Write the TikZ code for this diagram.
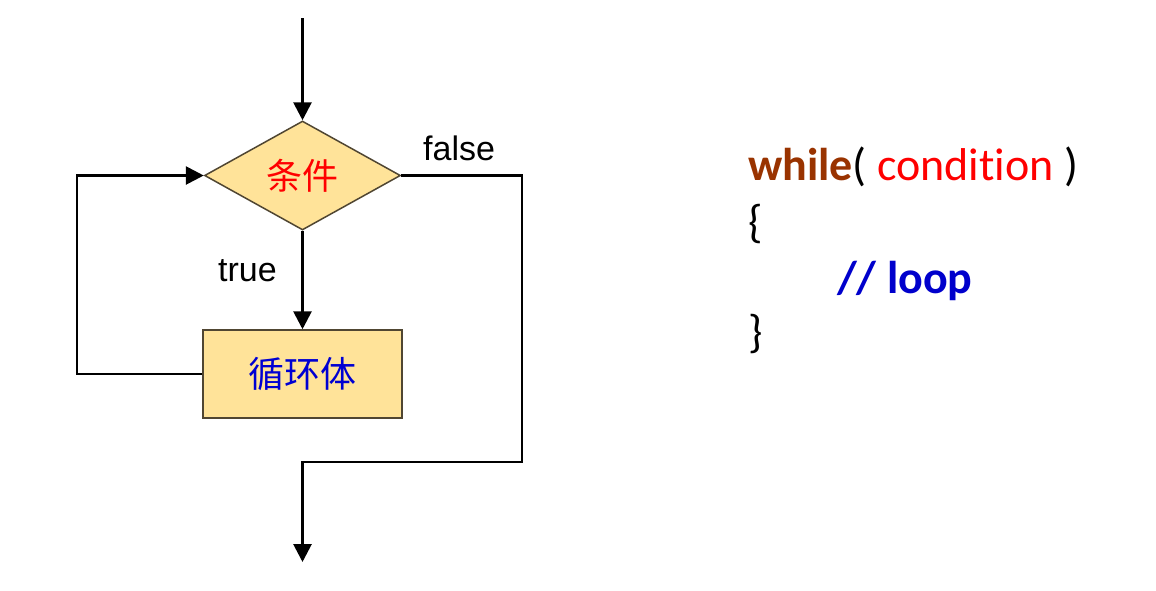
\documentclass[tikz,border=0pt]{standalone}
\usepackage{fontspec}
\setmainfont{Liberation Sans}
\newfontfamily\cjk{Noto Sans CJK SC}
\newfontfamily\codefont[Ligatures={NoCommon,NoRare,NoContextual}]{Carlito}
\usetikzlibrary{shapes.geometric,arrows.meta}
\definecolor{boxfill}{RGB}{255,227,153}
\definecolor{boxdraw}{RGB}{80,70,50}
\definecolor{kwbrown}{RGB}{153,51,0}
\definecolor{cjkblue}{RGB}{0,0,210}
\definecolor{codeblue}{RGB}{0,0,204}
\definecolor{cred}{RGB}{255,0,0}
\tikzset{
  wire/.style={line width=2.8pt, black},
  arr/.style={wire, -{Triangle[width=18pt,length=18pt]}},
  decbox/.style={diamond, draw=boxdraw, fill=boxfill, line width=1.5pt, inner sep=0pt,
    minimum width=196pt, minimum height=109pt},
  bodybox/.style={rectangle, draw=boxdraw, fill=boxfill, line width=1.5pt, inner sep=0pt,
    minimum width=199pt, minimum height=88pt},
  lbl/.style={anchor=base west, inner sep=0pt, font=\fontsize{34}{40}\selectfont},
  code/.style={anchor=base west, inner sep=0pt, font=\codefont\fontsize{46}{54}\selectfont},
}
\begin{document}
\begin{tikzpicture}[x=1pt,y=-1pt]
\useasboundingbox (0,0) rectangle (1156,590);
\node[decbox] (cond) at (302.5,175.5) {\cjk\fontsize{36}{40}\selectfont\color{cred}条件};
\node[bodybox] (body) at (302.5,374) {\cjk\fontsize{36}{40}\selectfont\color{cjkblue}循环体};
\coordinate (start) at (302.5,18);
\coordinate (c1) at (522,462);
\coordinate (c2) at (302.5,462);
\coordinate (endc) at (302.5,562);
\coordinate (c3) at (77,374);
\draw[arr] (start) -- (cond.north);
\draw[arr] (cond.south) -- (body.north);
\draw[arr] (cond.east) -| (c1) -- (c2) -- (endc);
\draw[arr] (body.west) -- (c3) |- (cond.west);
\node[lbl] (f) at (423,160) {false};
\node[lbl] (t) at (218,281) {true};
\node[code] (l1) at (748,180) {{\bfseries\color{kwbrown}while}(\ {\color{cred}condition}\ )};
\node[code] (l2) at (748,237) {\{};
\node[code] (l3) at (837,293) {\bfseries\color{codeblue}// loop};
\node[code] (l4) at (748,347) {\}};
\end{tikzpicture}
\end{document}
